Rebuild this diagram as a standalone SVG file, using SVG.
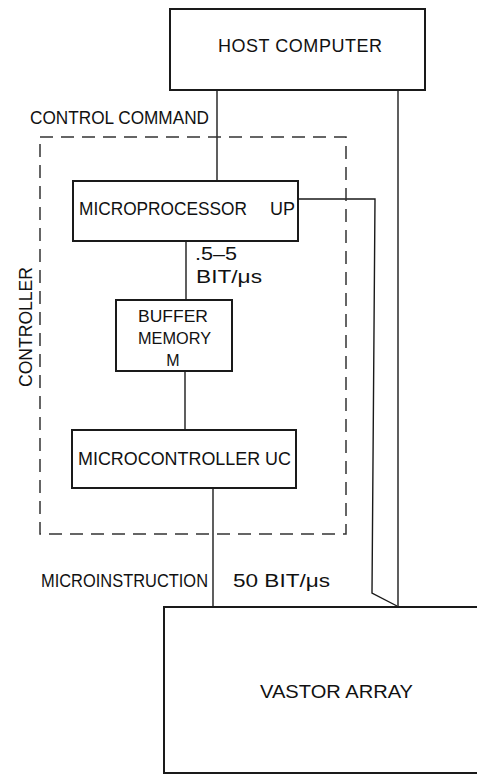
<svg xmlns="http://www.w3.org/2000/svg" width="477" height="774" viewBox="0 0 477 774">
<style>
.box{fill:none;stroke:#1a1a1a;stroke-width:2}
.ln{fill:none;stroke:#1a1a1a;stroke-width:1.4}
.dash{fill:none;stroke:#333;stroke-width:1.5;stroke-dasharray:13 8}
text{font-family:"Liberation Sans",Arial,sans-serif;font-size:18px;fill:#111}
.sm{font-size:16px}
</style>
<rect width="477" height="774" fill="#fff"/>
<g id="connectors">
<line class="ln" x1="217" y1="90" x2="217" y2="181"/>
<line class="ln" x1="398" y1="90" x2="398" y2="606"/>
<polyline class="ln" points="298,199 375,199 372,593 397,606"/>
<line class="ln" x1="186" y1="241" x2="186" y2="300"/>
<line class="ln" x1="185" y1="371" x2="185" y2="430"/>
<line class="ln" x1="213" y1="488" x2="213" y2="607"/>
<text x="195" y="260" textLength="42" lengthAdjust="spacingAndGlyphs">.5–5</text>
<text x="196" y="283" textLength="66" lengthAdjust="spacingAndGlyphs">BIT/μs</text>
<text x="30" y="124" textLength="179" lengthAdjust="spacingAndGlyphs">CONTROL COMMAND</text>
<text x="41" y="587" textLength="167" lengthAdjust="spacingAndGlyphs">MICROINSTRUCTION</text>
<text x="233" y="587" textLength="97" lengthAdjust="spacingAndGlyphs">50 BIT/μs</text>
</g>
<g id="controller">
<rect class="dash" x="40" y="137" width="306" height="397"/>
<text transform="translate(32,387) rotate(-90)" textLength="120" lengthAdjust="spacingAndGlyphs">CONTROLLER</text>
</g>
<g id="host">
<rect class="box" x="170" y="9" width="255" height="81"/>
<text x="218" y="52" textLength="164" lengthAdjust="spacing">HOST COMPUTER</text>
</g>
<g id="microprocessor">
<rect class="box" x="73" y="181" width="225" height="60"/>
<text x="79" y="215" textLength="168" lengthAdjust="spacingAndGlyphs">MICROPROCESSOR</text>
<text x="270" y="215" textLength="25" lengthAdjust="spacingAndGlyphs">UP</text>
</g>
<g id="buffer">
<rect class="box" x="116" y="300" width="116" height="71"/>
<text class="sm" x="138" y="322" textLength="70" lengthAdjust="spacingAndGlyphs">BUFFER</text>
<text class="sm" x="138" y="344" textLength="73" lengthAdjust="spacingAndGlyphs">MEMORY</text>
<text class="sm" x="173" y="366" text-anchor="middle">M</text>
</g>
<g id="microcontroller">
<rect class="box" x="72" y="430" width="224" height="58"/>
<text x="78" y="465" textLength="213" lengthAdjust="spacingAndGlyphs">MICROCONTROLLER UC</text>
</g>
<g id="vastor">
<rect class="box" x="164" y="607" width="330" height="166"/>
<text x="260" y="698" textLength="153" lengthAdjust="spacingAndGlyphs">VASTOR ARRAY</text>
</g>
</svg>
